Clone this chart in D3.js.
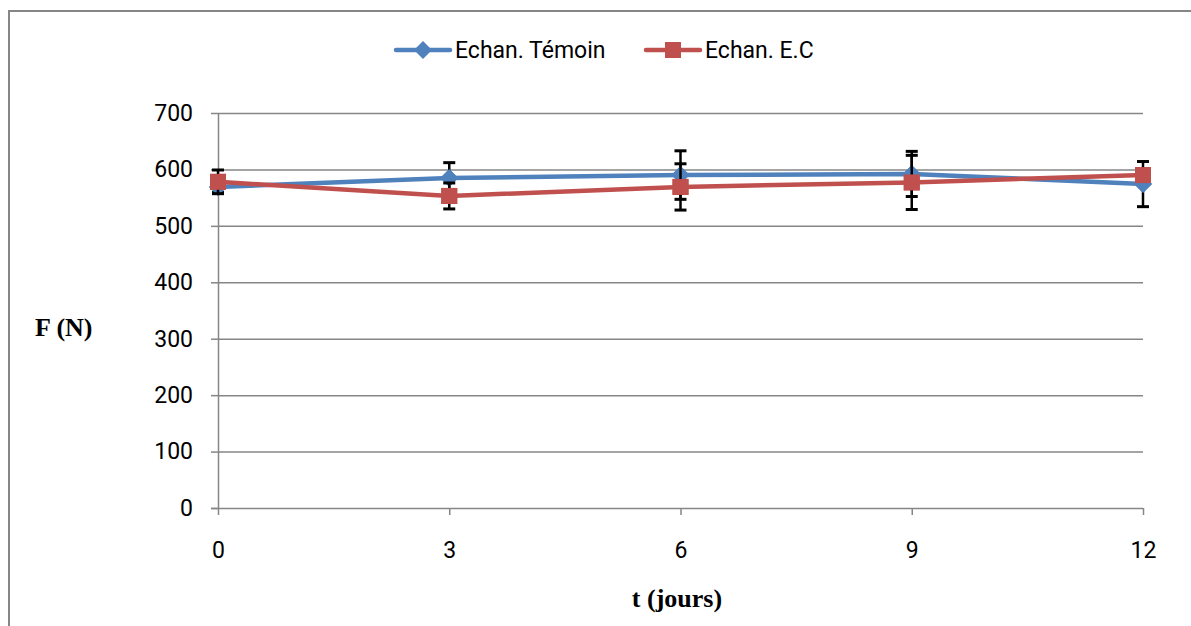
<!DOCTYPE html>
<html>
<head>
<meta charset="utf-8">
<script src="https://cdn.jsdelivr.net/npm/d3@7"></script>
<style>
  body { margin: 0; background: #fff; overflow: hidden; }
  svg { display: block; }
  svg text { font-family: Roboto, "DejaVu Sans", sans-serif; }
</style>
</head>
<body>
<div id="chart"></div>
<script>
// Data
const days = [0, 3, 6, 9, 12];
const temoin = [569, 585, 590, 592, 574];
const temoinErr = [10, 27, 43, 40, 40];
const ec = [578, 553, 569, 577, 590];
const ecErr = [21, 23, 41, 48, 10];
const yTicks = [0, 100, 200, 300, 400, 500, 600, 700];

const width = 1191, height = 626;
const margin = {top: 113, right: 48, bottom: 118, left: 218};
const innerWidth = 1143 - margin.left;
const innerHeight = 508 - margin.top;

const series = [
  {name: "Echan. Témoin", values: temoin, err: temoinErr, color: "#4F81BD", shape: "diamond"},
  {name: "Echan. E.C", values: ec, err: ecErr, color: "#C0504D", shape: "square"}
];

const xScale = d3.scaleLinear().domain([0, 12]).range([0, innerWidth]);
const yScale = d3.scaleLinear().domain([0, 700]).range([innerHeight, 0]);

const svg = d3.select("#chart")
  .append("svg")
    .attr("width", width)
    .attr("height", height);

// outer chart border (runs off the right / bottom edge like the reference)
svg.append("path")
  .attr("d", `M9,${height} V11 H${width}`)
  .attr("fill", "none")
  .attr("stroke", "#868686")
  .attr("stroke-width", 2);

const chart = svg.append("g")
  .attr("transform", `translate(${margin.left}, ${margin.top})`);

// gridlines
chart.append("g")
  .selectAll("line")
  .data(yTicks.slice(1))
  .join("line")
    .attr("x1", 0).attr("x2", innerWidth)
    .attr("y1", d => yScale(d) + 0.5).attr("y2", d => yScale(d) + 0.5)
    .attr("stroke", "#868686")
    .attr("stroke-width", 1.5);

// y axis
const leftAxis = d3.axisLeft(yScale).tickValues(yTicks).tickSize(7).tickPadding(18);
const gy = chart.append("g").attr("class", "axis-y").call(leftAxis);
gy.select(".domain").remove();
gy.append("line").attr("x1", 0.5).attr("x2", 0.5).attr("y1", 0).attr("y2", innerHeight)
  .attr("stroke", "#868686").attr("stroke-width", 1.5);
gy.selectAll(".tick line").attr("stroke", "#868686").attr("stroke-width", 1.5);
gy.selectAll(".tick text").style("font-size", "23px").attr("fill", "#000");

// x axis
const bottomAxis = d3.axisBottom(xScale).tickValues(days).tickSize(7).tickPadding(27);
const gx = chart.append("g")
  .attr("transform", `translate(0, ${innerHeight})`)
  .call(bottomAxis);
gx.select(".domain").remove();
gx.append("line").attr("x1", -7).attr("x2", innerWidth).attr("y1", 0.5).attr("y2", 0.5)
  .attr("stroke", "#868686").attr("stroke-width", 1.5);
gx.selectAll(".tick line").attr("stroke", "#868686").attr("stroke-width", 1.5);
gx.selectAll(".tick text").style("font-size", "23px").attr("fill", "#000");

// axis titles
svg.append("text")
  .attr("x", 35).attr("y", 336)
  .style("font-family", "'Liberation Serif', serif")
  .style("font-weight", "bold").style("font-size", "26px")
  .text("F (N)");
svg.append("text")
  .attr("x", 677).attr("y", 607)
  .attr("text-anchor", "middle")
  .style("font-family", "'Liberation Serif', serif")
  .style("font-weight", "bold").style("font-size", "26px")
  .text("t (jours)");

const drawMarker = (g, shape, color, x, y) => {
  if (shape === "diamond") {
    g.append("path")
      .attr("d", "M0,-9L9,0L0,9L-9,0Z")
      .attr("transform", `translate(${x}, ${y})`)
      .attr("fill", color);
  } else {
    g.append("rect")
      .attr("x", x - 8).attr("y", y - 8)
      .attr("width", 16).attr("height", 16)
      .attr("fill", color);
  }
};

const lineGenerator = d3.line()
  .x((d, i) => xScale(days[i]))
  .y(d => yScale(d));

series.forEach(s => {
  const g = chart.append("g");
  g.append("path")
    .attr("d", lineGenerator(s.values))
    .attr("fill", "none")
    .attr("stroke", s.color)
    .attr("stroke-width", 4.5)
    .attr("stroke-linejoin", "round");
  s.values.forEach((v, i) => drawMarker(g, s.shape, s.color, xScale(days[i]), yScale(v)));
});

// error bars on top
series.forEach(s => {
  const g = chart.append("g");
  s.values.forEach((v, i) => {
    const x = xScale(days[i]);
    const y0 = yScale(v - s.err[i]);
    const y1 = yScale(v + s.err[i]);
    g.append("line").attr("x1", x).attr("x2", x).attr("y1", y0).attr("y2", y1)
      .attr("stroke", "#000").attr("stroke-width", 2.5);
    [y0, y1].forEach(yy => {
      g.append("line").attr("x1", x - 6).attr("x2", x + 6).attr("y1", yy).attr("y2", yy)
        .attr("stroke", "#000").attr("stroke-width", 3);
    });
  });
  // marker drawn again so bar hides behind centre
  s.values.forEach((v, i) => drawMarker(g, s.shape, s.color, xScale(days[i]), yScale(v)));
});

// legend
const legendItems = [
  {x: 396, textX: 455},
  {x: 646, textX: 705}
];
series.forEach((s, i) => {
  const lg = svg.append("g");
  const lx = legendItems[i].x;
  lg.append("line").attr("x1", lx).attr("x2", lx + 54).attr("y1", 50).attr("y2", 50)
    .attr("stroke", s.color).attr("stroke-width", 4.5).attr("stroke-linecap", "round");
  drawMarker(lg, s.shape, s.color, lx + 27, 50);
  lg.append("text")
    .attr("x", legendItems[i].textX).attr("y", 58)
    .style("font-size", "23px")
    .text(s.name);
});
</script>
</body>
</html>
